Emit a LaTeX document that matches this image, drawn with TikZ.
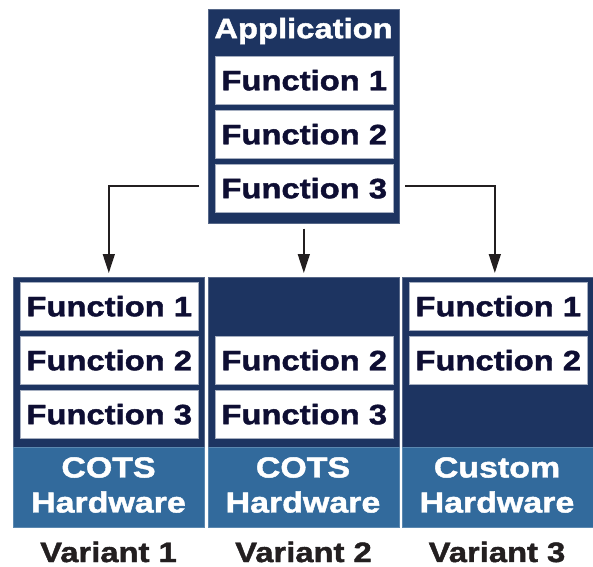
\documentclass[tikz,border=0pt]{standalone}
\usepackage{fontspec}
\usetikzlibrary{arrows.meta}
\newfontfamily\hfont[FakeStretch=1.17,FakeBold=1.6]{Liberation Sans Bold}
\definecolor{navy}{HTML}{1D3461}
\definecolor{hwblue}{HTML}{326A9C}
\definecolor{fntext}{HTML}{0E0E33}
\definecolor{arrowc}{HTML}{231F20}
\tikzset{
  navybox/.style={fill=navy, draw=navy!75!white, line width=0.6bp, inner sep=0pt, anchor=north west, minimum width=191bp},
  hwbox/.style={fill=hwblue, draw=hwblue!80!white, line width=0.6bp, inner sep=0pt, anchor=north west, minimum width=191bp, minimum height=80bp},
  hwtext/.style={text=white, align=center, inner sep=0pt, font=\hfont\fontsize{29bp}{35bp}\selectfont},
  fbox/.style={fill=white, draw=navy!40!white, line width=0.5bp, inner sep=0pt, anchor=north west, minimum width=178bp, minimum height=48bp,
    text=fntext, font=\hfont\fontsize{28bp}{30bp}\selectfont},
  titletext/.style={text=white, inner sep=0pt, font=\hfont\fontsize{28bp}{30bp}\selectfont},
  vlabel/.style={text=arrowc, inner sep=0pt, font=\hfont\fontsize{28bp}{30bp}\selectfont},
  arr/.style={draw=arrowc, line width=1.4bp, -{Triangle[width=12bp,length=19bp]}}
}
\begin{document}
\begin{tikzpicture}[x=1bp,y=-1bp]
\useasboundingbox (0,0) rectangle (593,567);
% application block
\node[navybox, minimum height=214bp] (app) at (208,9) {};
\node[titletext] (apptitle) at (303.5,31) {Application};
\node[fbox] (af1) at (215,56) {Function 1};
\node[fbox] (af2) at (215,110) {Function 2};
\node[fbox] (af3) at (215,164) {Function 3};
% variant 1
\node[navybox, minimum height=170bp] (v1) at (13,277) {};
\node[fbox] (v1f1) at (20,282) {Function 1};
\node[fbox] (v1f2) at (20,336) {Function 2};
\node[fbox] (v1f3) at (20,390) {Function 3};
\node[hwbox] (h1) at (13,447) {};
\node[hwtext] (h1t) at (108.5,485) {COTS\\Hardware};
\node[vlabel] (lab1) at (108.5,552) {Variant 1};
% variant 2
\node[navybox, minimum height=170bp] (v2) at (208,277) {};
\node[fbox] (v2f2) at (215,336) {Function 2};
\node[fbox] (v2f3) at (215,390) {Function 3};
\node[hwbox] (h2) at (208,447) {};
\node[hwtext] (h2t) at (303,485) {COTS\\Hardware};
\node[vlabel] (lab2) at (303.5,552) {Variant 2};
% variant 3
\node[navybox, minimum height=170bp] (v3) at (402,277) {};
\node[fbox] (v3f1) at (409,282) {Function 1};
\node[fbox] (v3f2) at (409,336) {Function 2};
\node[hwbox] (h3) at (402,447) {};
\node[hwtext] (h3t) at (497,485) {Custom\\Hardware};
\node[vlabel] (lab3) at (497,552) {Variant 3};
% connectors
\coordinate (ls) at (199,186);
\coordinate (rs) at (405,186);
\draw[arr] (ls) -| ([yshift=4bp]v1.north);
\draw[arr] ([yshift=-5bp]app.south) -- ([yshift=4bp]v2.north);
\draw[arr] (rs) -| ([xshift=-3bp,yshift=4bp]v3.north);
\end{tikzpicture}
\end{document}
